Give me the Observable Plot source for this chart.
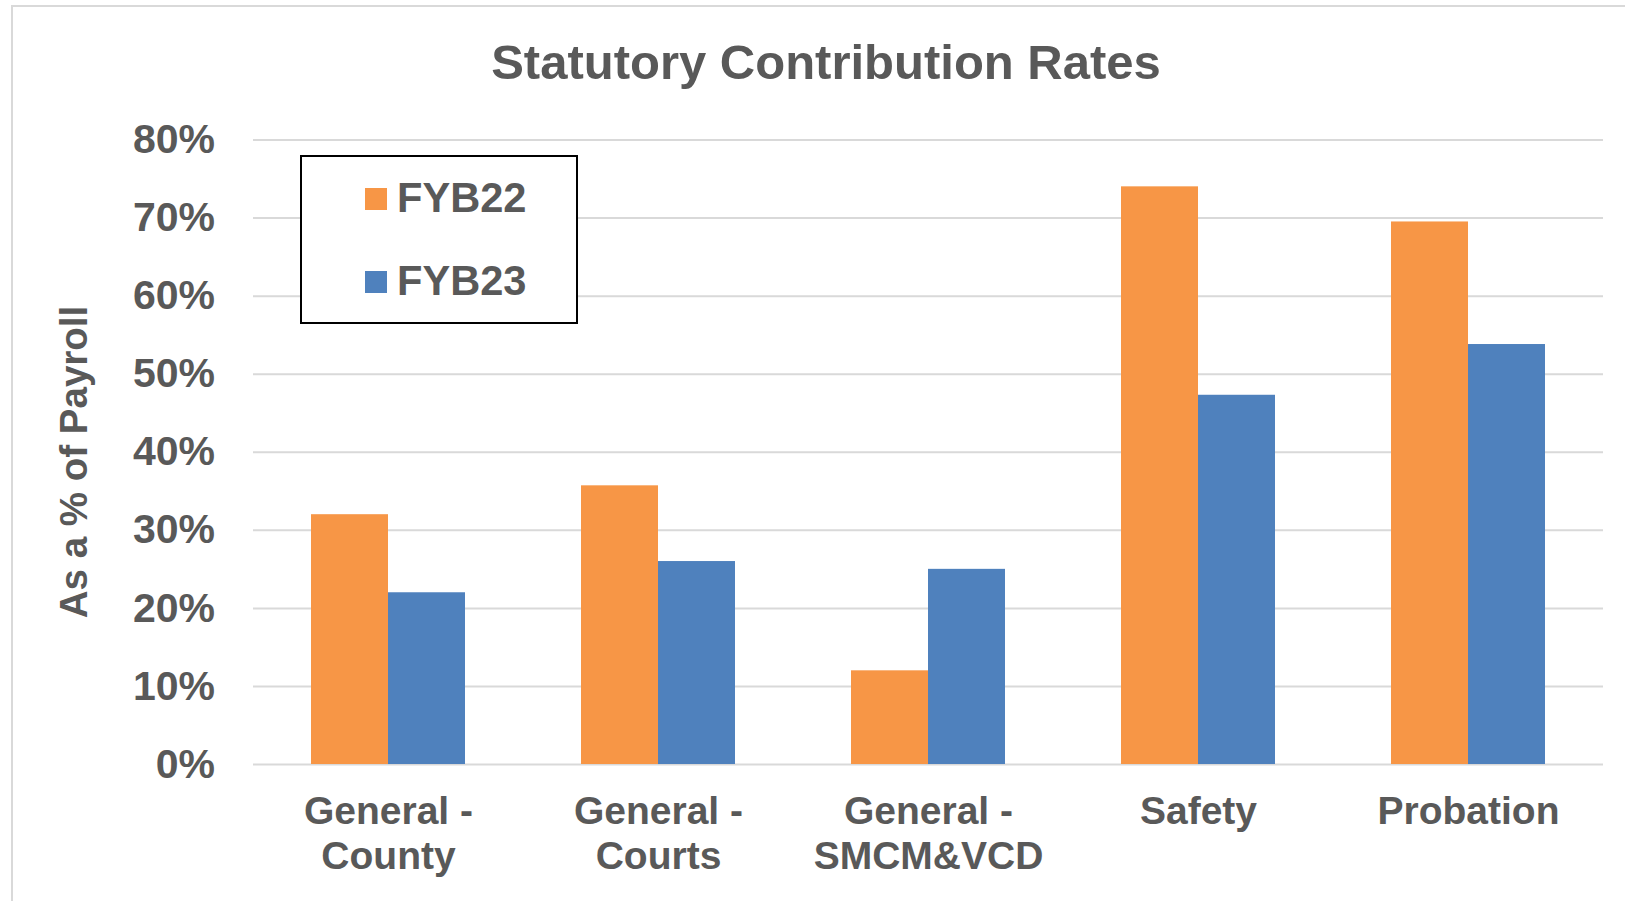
<!DOCTYPE html>
<html>
<head>
<meta charset="utf-8">
<script src="https://cdn.jsdelivr.net/npm/d3@7"></script>
<script src="https://cdn.jsdelivr.net/npm/@observablehq/plot@0.6"></script>
<style>
  html, body { margin: 0; padding: 0; background: #fff; overflow: hidden; }
  #wrap { position: relative; width: 1625px; height: 901px; overflow: hidden;
          font-family: "Liberation Sans", Arial, sans-serif; font-weight: bold; color: #595959; }
  #wrap > svg { position: absolute; left: 0; top: 0; }
  .abs { position: absolute; white-space: nowrap; line-height: 1; }
  #border { position: absolute; left: 11px; top: 5px; width: 1700px; height: 1000px;
            border: 2px solid #D9D9D9; box-sizing: border-box; }
  #legend { position: absolute; left: 300px; top: 155px; width: 278px; height: 169px;
            border: 2px solid #000; box-sizing: border-box; background: #fff; }
  .sw { position: absolute; width: 22px; height: 22px; }
</style>
</head>
<body>
<div id="wrap">
  <div id="border"></div>
</div>
<script>
// ---- data ----
const categories = ["General -\nCounty", "General -\nCourts", "General -\nSMCM&VCD", "Safety", "Probation"];
const seriesNames = ["FYB22", "FYB23"];
const seriesColors = ["#F79646", "#4F81BD"];
const fyb22 = [32.0, 35.7, 12.0, 74.0, 69.5];
const fyb23 = [22.0, 26.0, 25.0, 47.3, 53.8];
const yTicks = [0, 10, 20, 30, 40, 50, 60, 70, 80];
const yTickLabels = ["0%", "10%", "20%", "30%", "40%", "50%", "60%", "70%", "80%"];
const titleText = "Statutory Contribution Rates";
const yLabelText = "As a % of Payroll";

const rows = [];
categories.forEach((c, i) => {
  rows.push({category: c, series: seriesNames[0], value: fyb22[i]});
  rows.push({category: c, series: seriesNames[1], value: fyb23[i]});
});

const chart = Plot.plot({
  width: 1625,
  height: 901,
  marginLeft: 253,
  marginRight: 22,
  marginTop: 139.5,
  marginBottom: 137,
  style: {fontFamily: '"Liberation Sans", Arial, sans-serif', fontWeight: "bold", color: "#595959", background: "transparent"},
  fx: {domain: categories, padding: 0, label: null},
  x: {domain: seriesNames, paddingInner: 0, paddingOuter: 0.7532, axis: null},
  y: {domain: [0, 80], axis: null},
  color: {domain: seriesNames, range: seriesColors},
  marks: [
    Plot.gridY(yTicks, {stroke: "#D9D9D9", strokeOpacity: 1, strokeWidth: 2}),
    Plot.barY(rows, {fx: "category", x: "series", y: "value", fill: "series", inset: 0}),
    Plot.axisY(yTicks, {tickSize: 0, tickPadding: 38.5, fontSize: 41, label: null,
      tickFormat: d => yTickLabels[yTicks.indexOf(d)]}),
    Plot.axisFx({anchor: "bottom", tickSize: 0, tickPadding: 28, fontSize: 39, lineHeight: 1.15, label: null})
  ]
});

const wrap = document.getElementById("wrap");
wrap.appendChild(chart);

// Title
const title = document.createElement("div");
title.className = "abs";
title.textContent = titleText;
title.style.fontSize = "49px";
title.style.left = "826px";
title.style.top = (79 - 0.8465 * 49) + "px";
title.style.transform = "translateX(-50%)";
wrap.appendChild(title);

// Y label (rotated)
const yl = document.createElement("div");
yl.className = "abs";
yl.textContent = yLabelText;
yl.style.fontSize = "38.5px";
yl.style.left = "73.7px";
yl.style.top = "462px";
yl.style.transform = "translate(-50%, -50%) rotate(-90deg)";
wrap.appendChild(yl);

// Legend
const legend = document.createElement("div");
legend.id = "legend";
wrap.appendChild(legend);
const swTops = [187.5, 270.5];
const txtBase = [212.5, 295.4];
seriesNames.forEach((s, i) => {
  const sw = document.createElement("div");
  sw.className = "sw";
  sw.style.background = seriesColors[i];
  sw.style.left = (365 - 300 - 2) + "px";
  sw.style.top = (swTops[i] - 155 - 2) + "px";
  legend.appendChild(sw);
  const t = document.createElement("div");
  t.className = "abs";
  t.textContent = s;
  t.style.fontSize = "41.6px";
  t.style.left = (397 - 300 - 2) + "px";
  t.style.top = (txtBase[i] - 0.8465 * 41.6 - 155 - 2) + "px";
  legend.appendChild(t);
});
</script>
</body>
</html>
